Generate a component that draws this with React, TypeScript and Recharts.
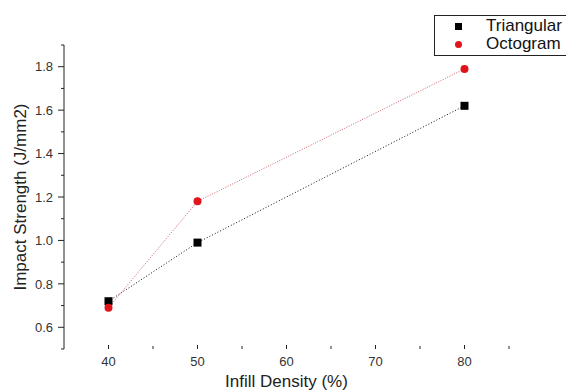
import { LineChart, Line, XAxis, YAxis, Legend } from 'recharts';

const densities = [40, 50, 80];
const triangular = [0.72, 0.99, 1.62];
const octogram = [0.69, 1.18, 1.79];

const xTicks = [40, 45, 50, 55, 60, 65, 70, 75, 80, 85];
const yTicks = [0.5, 0.6, 0.7, 0.8, 0.9, 1.0, 1.1, 1.2, 1.3, 1.4, 1.5, 1.6, 1.7, 1.8, 1.9];

const data = densities.map((d, i) => ({
  density: d,
  triangular: triangular[i],
  octogram: octogram[i],
}));

const FONT = '"Liberation Sans", Arial, sans-serif';

const XTick = ({ x, y, payload }: any) => {
  const major = payload.value % 10 === 0;
  return (
    <g>
      <line x1={x} x2={x} y1={y - (major ? 4 : 3)} y2={y} stroke="#222" />
      {major && (
        <text x={x} y={y + 17} textAnchor="middle" fontSize={13} fill="#333" fontFamily={FONT}>
          {payload.value}
        </text>
      )}
    </g>
  );
};

const YTick = ({ x, y, payload }: any) => {
  const major = Math.round(payload.value * 10) % 2 === 0;
  return (
    <g>
      <line x1={x - (major ? 6 : 3)} x2={x} y1={y} y2={y} stroke="#222" />
      {major && (
        <text x={x - 11} y={y} dy="0.36em" textAnchor="end" fontSize={13} fill="#333" fontFamily={FONT}>
          {payload.value.toFixed(1)}
        </text>
      )}
    </g>
  );
};

const Square = ({ cx, cy }: any) => <rect x={cx - 4} y={cy - 4} width={8} height={8} fill="#000" />;

const LegendBox = () => (
  <div
    style={{
      border: '1px solid #222',
      background: '#fff',
      padding: '1px 0 2px 0',
      fontFamily: FONT,
      fontSize: 17,
      lineHeight: '18px',
      color: '#111',
      width: 160,
    }}
  >
    <div style={{ display: 'flex', alignItems: 'center' }}>
      <span style={{ width: 7, height: 7, background: '#000', marginLeft: 20, marginRight: 24 }} />
      Triangular
    </div>
    <div style={{ display: 'flex', alignItems: 'center' }}>
      <span
        style={{ width: 7, height: 7, borderRadius: '50%', background: '#e0141a', marginLeft: 20, marginRight: 24 }}
      />
      Octogram
    </div>
  </div>
);

export default function App() {
  return (
    <div style={{ position: 'absolute', left: 0, top: 0, width: 566, height: 392, overflow: 'hidden', background: '#fff' }}>
      <LineChart width={566} height={392} data={data} margin={{ top: 45, right: 57, bottom: 0, left: 14 }}>
        <XAxis
          dataKey="density"
          type="number"
          domain={[35, 85]}
          ticks={xTicks}
          axisLine={false}
          tickLine={false}
          tickSize={0}
          tickMargin={0}
          tick={<XTick />}
          height={43}
          interval={0}
          label={{
            value: 'Infill Density (%)',
            position: 'insideBottom',
            offset: 5,
            fontSize: 17,
            fill: '#222',
            fontFamily: FONT,
          }}
        />
        <YAxis
          type="number"
          domain={[0.5, 1.9]}
          ticks={yTicks}
          axisLine={{ stroke: '#222' }}
          tickLine={false}
          tickSize={0}
          tickMargin={0}
          tick={<YTick />}
          width={50}
          interval={0}
          label={{
            value: 'Impact Strength (J/mm2)',
            angle: -90,
            position: 'insideLeft',
            offset: 6,
            fontSize: 17,
            fill: '#222',
            fontFamily: FONT,
            style: { textAnchor: 'middle' },
          }}
        />
        <Legend
          layout="horizontal"
          verticalAlign="middle"
          align="center"
          content={<LegendBox />}
          wrapperStyle={{ top: 15, left: 434, width: 160, height: 'auto' }}
        />
        <Line
          dataKey="triangular"
          name="Triangular"
          stroke="#111"
          strokeWidth={1}
          strokeDasharray="1 2"
          dot={<Square />}
          activeDot={false}
          isAnimationActive={false}
        />
        <Line
          dataKey="octogram"
          name="Octogram"
          stroke="#d0606a"
          strokeWidth={1}
          strokeDasharray="1 1.5"
          dot={{ r: 4, fill: '#e0141a', stroke: 'none' }}
          activeDot={false}
          isAnimationActive={false}
        />
      </LineChart>
    </div>
  );
}
